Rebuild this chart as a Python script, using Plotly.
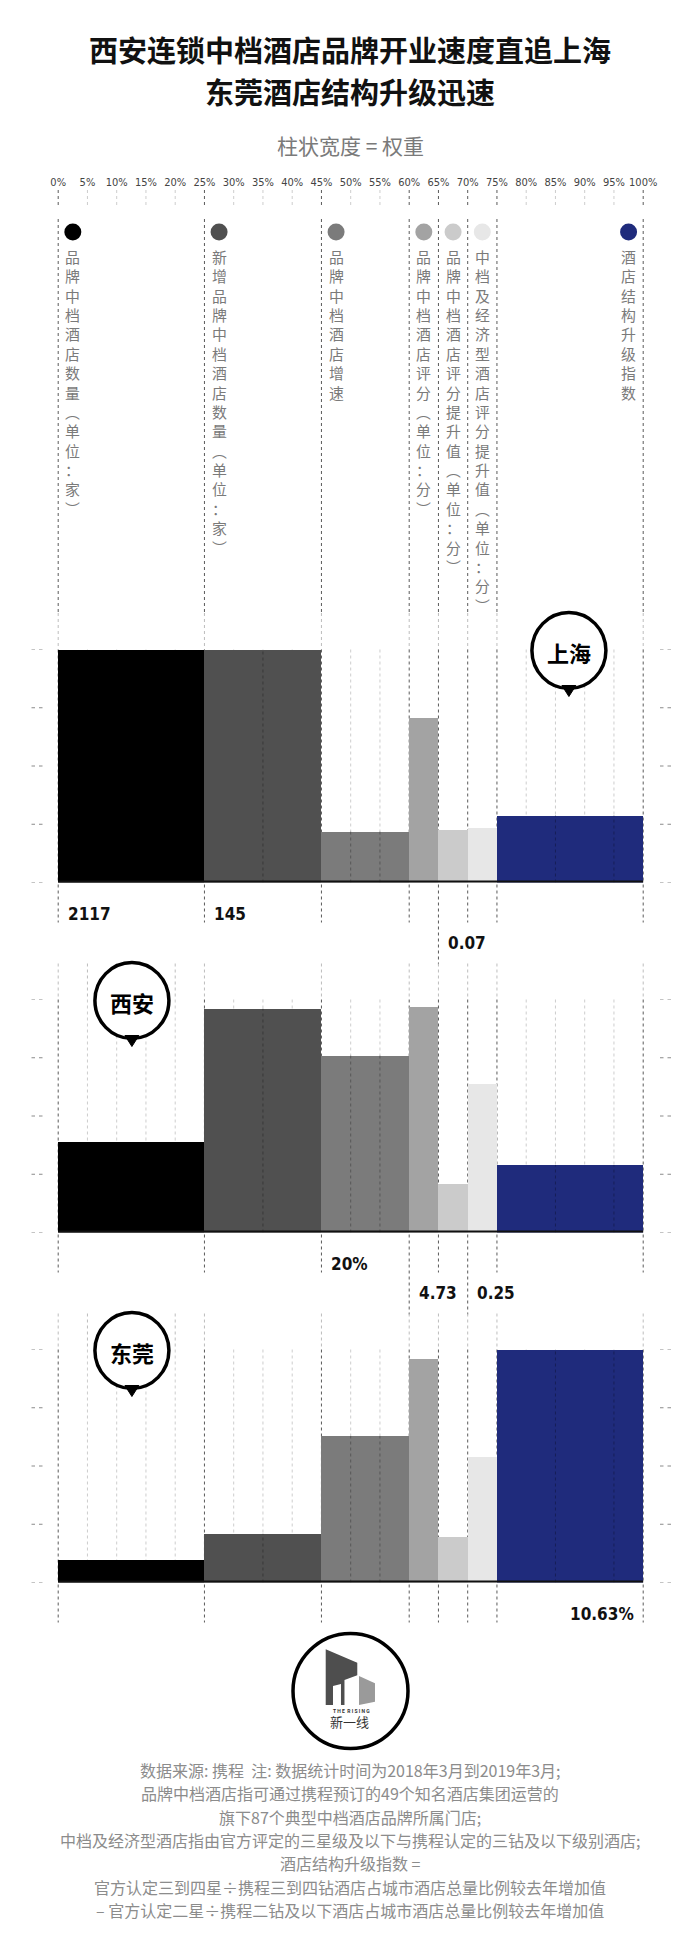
import plotly.graph_objects as go

W, H = 700, 1948

# ---------------- data ----------------
title_lines = ["西安连锁中档酒店品牌开业速度直追上海", "东莞酒店结构升级迅速"]
subtitle = "柱状宽度 = 权重"
tick_values = [0, 5, 10, 15, 20, 25, 30, 35, 40, 45, 50, 55, 60, 65, 70, 75, 80, 85, 90, 95, 100]
tick_labels = ["0%", "5%", "10%", "15%", "20%", "25%", "30%", "35%", "40%", "45%", "50%",
               "55%", "60%", "65%", "70%", "75%", "80%", "85%", "90%", "95%", "100%"]

categories = ["品牌中档酒店数量（单位：家）",
              "新增品牌中档酒店数量（单位：家）",
              "品牌中档酒店增速",
              "品牌中档酒店评分（单位：分）",
              "品牌中档酒店评分提升值（单位：分）",
              "中档及经济型酒店评分提升值（单位：分）",
              "酒店结构升级指数"]
weights = [25, 20, 15, 5, 5, 5, 25]          # column width = weight (%)
colors = ["#000000", "#505050", "#7b7b7b", "#a3a3a3", "#cbcbcb", "#e7e7e7", "#1f2b7c"]

cities = ["上海", "西安", "东莞"]
# bar heights, relative scale (0-100)
heights_shanghai = [100, 100, 22.0, 70.8, 22.9, 23.7, 28.9]
heights_xian = [39.0, 96.1, 76.0, 97.1, 21.1, 64.0, 29.0]
heights_dongguan = [10.0, 21.0, 62.9, 96.1, 19.9, 53.9, 100]
labels_shanghai = ["2117", "145", "", "", "0.07", "", ""]
labels_xian = ["", "", "20%", "4.73", "", "0.25", ""]
labels_dongguan = ["", "", "", "", "", "", "10.63%"]

footnotes = ["数据来源: 携程  注: 数据统计时间为2018年3月到2019年3月;",
             "品牌中档酒店指可通过携程预订的49个知名酒店集团运营的",
             "旗下87个典型中档酒店品牌所属门店;",
             "中档及经济型酒店指由官方评定的三星级及以下与携程认定的三钻及以下级别酒店;",
             "酒店结构升级指数 =",
             "官方认定三到四星÷携程三到四钻酒店占城市酒店总量比例较去年增加值",
             "– 官方认定二星÷携程二钻及以下酒店占城市酒店总量比例较去年增加值"]

# ---------------- layout constants ----------------
X0, X100 = 58.2, 643.2
PX = (X100 - X0) / 100.0
x_range = [-X0 / PX, (W - X0) / PX]

CJK = "Noto Sans CJK SC"
NUM = "Liberation Sans Narrow, DejaVu Sans Condensed, Roboto Condensed, Arial Narrow, Roboto, sans-serif"
DARK = "#5a5a5a"
LIGHT = "#cdcdcd"
DOT = "#bdbdbd"

starts = [sum(weights[:i]) for i in range(len(weights))]
centers = [s + w / 2 for s, w in zip(starts, weights)]
boundaries = starts + [100]
right_side = [False, False, False, False, False, False, True]
marker_x = [e - 2.5 if r else s + 2.5 for s, e, r in zip(starts, [s + w for s, w in zip(starts, weights)], right_side)]

panel_heights = [heights_shanghai, heights_xian, heights_dongguan]
panel_labels = [labels_shanghai, labels_xian, labels_dongguan]
panel_tops = [649.5, 999.5, 1349.5]
PANEL_H = 233.0
bubble_x = [87.3, 12.6, 12.6]

fig = go.Figure()

# legend dots (pixel y axis)
fig.add_trace(go.Scatter(x=marker_x, y=[232] * len(marker_x), mode="markers",
                         marker=dict(size=17, color=colors, line=dict(width=0)),
                         xaxis="x", yaxis="y", hoverinfo="skip", showlegend=False))

shapes = []
annotations = []


def vline(xp, y0, y1, color, dash, width=1, layer="below", yref="y"):
    shapes.append(dict(type="line", xref="x", yref=yref, x0=xp, x1=xp, y0=y0, y1=y1,
                       line=dict(color=color, width=width, dash=dash), layer=layer))


# small dashes under tick labels
for p in tick_values:
    vline(p, 190, 208, DARK if p in boundaries else LIGHT, "3px,3px")

# legend region lines
for p in boundaries:
    vline(p, 219, 613, DARK, "3px,3px")
    vline(p, 613, panel_tops[0], DOT, "dot")

# vertical legend text (one character per line)
VERT = {"（": "︵", "）": "︶"}
VFONT = 14.9
for cat, xm in zip(categories, marker_x):
    chars = [VERT.get(c, c) for c in cat]
    annotations.append(dict(x=xm, y=244, xref="x", yref="y", text="<br>".join(chars), showarrow=False,
                            xanchor="center", yanchor="top", align="center",
                            font=dict(family=CJK, size=VFONT, color="#7a7a7a")))

layout_axes = {}
for k, (heights, labels, T) in enumerate(zip(panel_heights, panel_labels, panel_tops)):
    B = T + PANEL_H
    yname = "y%d" % (k + 2)
    layout_axes["yaxis%d" % (k + 2)] = dict(domain=[1 - B / H, 1 - T / H], range=[0, 100],
                                            anchor="x", visible=False, fixedrange=True)
    fig.add_trace(go.Bar(x=centers, y=heights, width=weights, marker=dict(color=colors, line=dict(width=0)),
                         xaxis="x", yaxis=yname, hoverinfo="skip", showlegend=False))

    # grid lines
    if k > 0:
        for p in boundaries + [5, 10, 15, 20]:
            vline(p, T - 36, T, DOT, "dot")
    for p in tick_values:
        if p in boundaries:
            vline(p, T, B, DARK, "3px,3px")
        else:
            vline(p, T, B, LIGHT, "3px,3px")
    # lines over bars
    for p in [35, 50, 55, 85, 95]:
        i = max(j for j, s in enumerate(starts) if s <= p)
        vline(p, 0, heights[i], "rgba(0,0,0,0.30)", "3px,3px", layer="above", yref=yname)

    # below baseline lines + value labels
    long_cols = [starts[i] for i, (lab, w) in enumerate(zip(labels, weights)) if lab and w <= 5]
    for p in boundaries:
        vline(p, B + 2, B + (82 if p in long_cols else 40), DARK, "3px,3px")
    for i, lab in enumerate(labels):
        if not lab:
            continue
        row_y = B + (60 if weights[i] <= 5 else 31.5)
        if right_side[i]:
            xa, anchor = starts[i] + weights[i] - 1.3, "right"
        else:
            xa, anchor = starts[i] + 1.3, "left"
        annotations.append(dict(x=xa, y=row_y, xref="x", yref="y", text="<b>%s</b>" % lab, showarrow=False,
                                xanchor=anchor, yanchor="middle",
                                font=dict(family=NUM, size=17, color="#111111")))

    # side tick marks
    for v in [0, 25, 50, 75, 100]:
        for xa0, xa1 in [(31.5, 44), (660, 672)]:
            shapes.append(dict(type="line", xref="paper", yref=yname, x0=xa0 / W, x1=xa1 / W, y0=v, y1=v,
                               line=dict(color="#8a8a8a", width=1, dash="3.5px,4px"), layer="below"))
    # baseline
    shapes.append(dict(type="line", xref="x", yref=yname, x0=0, x1=100, y0=0, y1=0,
                       line=dict(color="#111111", width=4), layer="above"))

    # city bubble
    cx, cy = bubble_x[k], T + 1
    rx = 37 / PX
    shapes.append(dict(type="circle", xref="x", yref="y", x0=cx - rx, x1=cx + rx, y0=cy - 38, y1=cy + 38,
                       fillcolor="white", line=dict(color="black", width=3.5), layer="above"))
    shapes.append(dict(type="path", xref="x", yref="y",
                       path="M %.3f,%.2f L %.3f,%.2f L %.3f,%.2f Z" % (cx - 7 / PX, cy + 35, cx + 7 / PX, cy + 35, cx, cy + 46),
                       fillcolor="black", line=dict(color="black", width=1), layer="above"))
    annotations.append(dict(x=cx, y=cy + 1, xref="x", yref="y", text="<b>%s</b>" % cities[k], showarrow=False,
                            xanchor="center", yanchor="middle", font=dict(family=CJK, size=22, color="black")))

# title: two separate lines
for yy, t in zip([48.5, 91], title_lines):
    annotations.append(dict(x=0.5, y=yy, xref="paper", yref="y", text="<b>%s</b>" % t,
                            showarrow=False, xanchor="center", yanchor="middle",
                            font=dict(family=CJK, size=29, color="#111111")))
annotations.append(dict(x=0.5, y=145, xref="paper", yref="y", text=subtitle, showarrow=False,
                        xanchor="center", yanchor="middle", font=dict(family=CJK, size=21, color="#7a7a7a")))

# logo
LCX, LCY, LR = 350.5, 1691, 57.5
shapes.append(dict(type="circle", xref="paper", yref="y", x0=(LCX - LR) / W, x1=(LCX + LR) / W,
                   y0=LCY - LR, y1=LCY + LR, fillcolor="white", line=dict(color="black", width=3.5), layer="above"))


def ppath(pts):
    s = "M " + " L ".join("%.4f,%.2f" % (x / W, y) for x, y in pts) + " Z"
    return s


shapes.append(dict(type="path", xref="paper", yref="y",
                   path=ppath([(325.7, 1649.3), (357.3, 1662.7), (357.3, 1675.3), (344.5, 1680),
                               (344.5, 1705), (341, 1705), (341, 1684), (333, 1686), (333, 1705), (325.7, 1705)]),
                   fillcolor="#4e4e4e", line=dict(width=0), layer="above"))
shapes.append(dict(type="path", xref="paper", yref="y",
                   path=ppath([(359, 1676), (375, 1683.3), (375, 1701.7), (359, 1705)]),
                   fillcolor="#9a9a9a", line=dict(width=0), layer="above"))
annotations.append(dict(x=351 / W, y=1711, xref="paper", yref="y", text="<b>T H E  R I S I N G</b>",
                        showarrow=False, xanchor="center", yanchor="middle",
                        font=dict(family="Roboto", size=5, color="#333333")))
annotations.append(dict(x=349 / W, y=1721, xref="paper", yref="y", text="新一线", showarrow=False,
                        xanchor="center", yanchor="middle", font=dict(family=CJK, size=13, color="#333333")))

# footnotes
for i, line in enumerate(footnotes):
    annotations.append(dict(x=0.5, y=1770 + 23.3 * i, xref="paper", yref="y", text=line, showarrow=False,
                            xanchor="center", yanchor="middle", font=dict(family=CJK, size=16, color="#8c8c8c")))

fig.update_layout(
    width=W, height=H, margin=dict(l=0, r=0, t=0, b=0, pad=0),
    paper_bgcolor="white", plot_bgcolor="rgba(0,0,0,0)",
    showlegend=False, bargap=0,
    xaxis=dict(range=x_range, domain=[0, 1], anchor="free", position=1 - 188 / H, side="top",
               tickmode="array", tickvals=tick_values, ticktext=tick_labels, ticks="", tickangle=0,
               showgrid=False, zeroline=False, showline=False, fixedrange=True,
               tickfont=dict(family=NUM, size=11, color="#444444")),
    yaxis=dict(range=[H, 0], domain=[0, 1], anchor="x", visible=False, fixedrange=True),
    shapes=shapes, annotations=annotations,
    **layout_axes,
)

fig.write_html("out.html", config={"displayModeBar": False})
